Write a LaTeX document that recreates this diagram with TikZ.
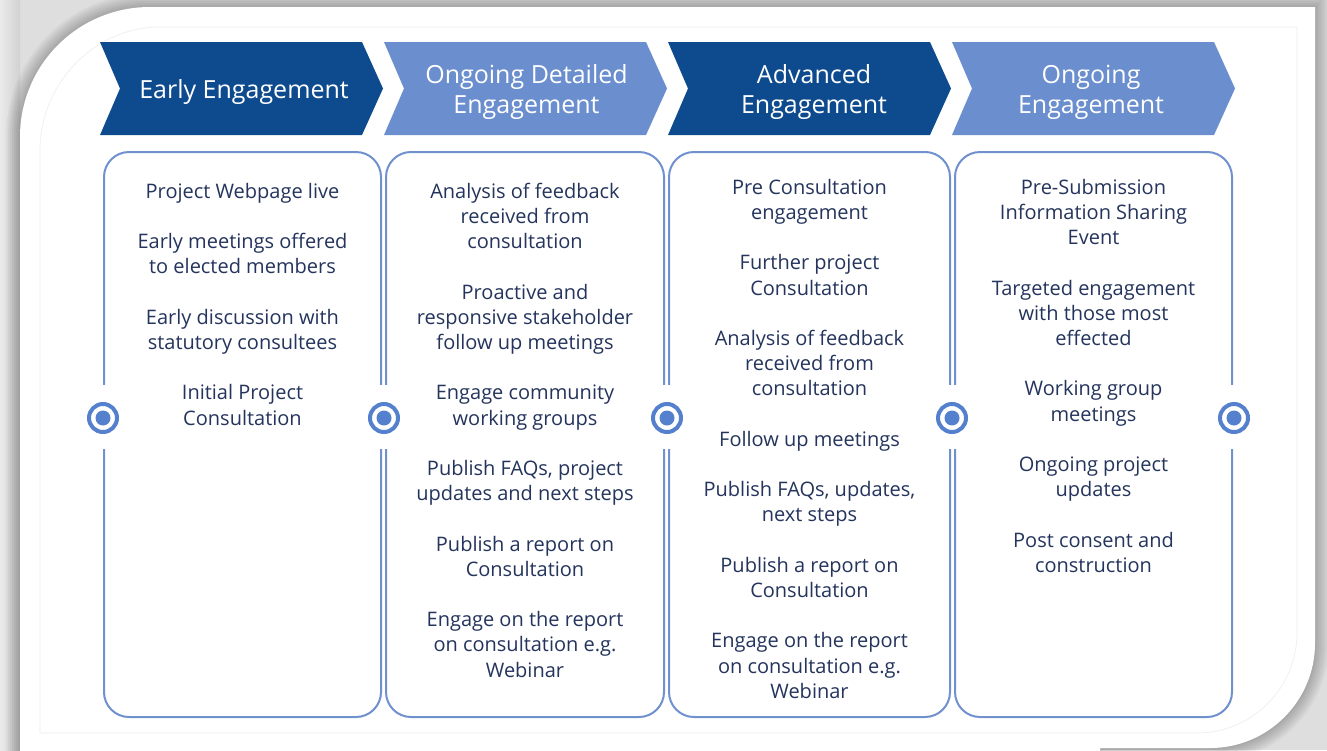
\documentclass[tikz,border=0pt]{standalone}
\usepackage{fontspec}
\setmainfont{Open Sans}
\definecolor{darkblue}{RGB}{14,74,142}
\definecolor{lightblue}{RGB}{106,142,206}
\definecolor{boxblue}{RGB}{112,144,206}
\definecolor{ringblue}{RGB}{84,128,206}
\definecolor{textblue}{RGB}{36,52,92}
\definecolor{bggray}{RGB}{222,222,222}
\tikzset{
  chevdark/.style={fill=darkblue},
  chevlight/.style={fill=lightblue},
  headtext/.style={text=white, font=\fontsize{25}{30}\selectfont, align=center, anchor=north, inner sep=0pt},
  bodytext/.style={text=textblue, font=\fontsize{20}{25.2}\selectfont, align=center, anchor=north, inner sep=0pt},
  colbox/.style={draw=boxblue, line width=2pt, rounded corners=25pt, minimum height=565pt, inner sep=0pt},
  ring/.style={circle, draw=ringblue, line width=4pt, fill=white, minimum size=28pt, inner sep=0pt},
}
\def\cardpath{(20,760) -- (20,137) .. controls (20,65) and (78,7) .. (150,7) -- (1315,7) -- (1315,643) .. controls (1315,701) and (1268,748) .. (1210,748) -- (1100,748) -- (1100,760) -- cycle}
\begin{document}
\begin{tikzpicture}[x=1pt,y=-1pt]
\useasboundingbox (0,0) rectangle (1327,750);
\clip (0,0) rectangle (1327,750);
% background and card
\fill[bggray] (0,0) rectangle (1327,750);
\shade[left color=white!92!black, right color=white!82!black] (0,0) rectangle (20,760);
\foreach \w in {4,8,12,16,20,24,28} {\draw[black, opacity=0.035, line width=\w pt] \cardpath;}
\fill[white] \cardpath;
\draw[black!7, line width=0.6pt] (40,733) -- (40,150) .. controls (40,84) and (94,27) .. (160,27) -- (1297,27) -- (1297,633) .. controls (1297,688) and (1252,733) .. (1197,733) -- cycle;
% chevrons
\foreach \L/\st in {100/chevdark, 384/chevlight, 668/chevdark, 952/chevlight} {
  \fill[\st] (\L,42) -- ({\L+262},42) -- ({\L+283},88.5) -- ({\L+262},135) -- (\L,135) -- ({\L+20},88.5) -- cycle;
}
\node[headtext] (h1) at (244,77) {\strut Early Engagement};
\node[headtext] (h2) at (526.5,62) {\strut Ongoing Detailed\\Engagement};
\node[headtext] (h3) at (814,62) {\strut Advanced\\Engagement};
\node[headtext] (h4) at (1091,62) {\strut Ongoing\\Engagement};
% boxes
\node[colbox, minimum width=277pt] (box1) at (242.5,434.5) {};
\node[colbox, minimum width=278pt] (box2) at (525,434.5) {};
\node[colbox, minimum width=281pt] (box3) at (809.5,434.5) {};
\node[colbox, minimum width=277pt] (box4) at (1093.5,434.5) {};
% gaps in the box edges
\foreach \x in {104,381,386,664,669,950,955,1232} {\fill[white] ({\x-3},385) rectangle ({\x+3},449);}
% rings
\foreach \x/\n in {103/c0, 384/c1, 667/c2, 952/c3, 1234/c4} {
  \node[ring] (\n) at (\x,418) {};
  \fill[ringblue] (\n.center) circle (7.5);
}
% texts
\node[bodytext] (t1) at (242.5,180.4) {\strut Project Webpage live\\[25.2pt]Early meetings offered\\to elected members\\[25.2pt]Early discussion with\\statutory consultees\\[25.2pt]Initial Project\\Consultation};
\node[bodytext] (t2) at (525,180.4) {\strut Analysis of feedback\\received from\\consultation\\[25.2pt]Proactive and\\responsive stakeholder\\follow up meetings\\[25.2pt]Engage community\\working groups\\[25.2pt]Publish FAQs, project\\updates and next steps\\[25.2pt]Publish a report on\\Consultation\\[25.2pt]Engage on the report\\on consultation e.g.\\Webinar};
\node[bodytext] (t3) at (809.5,176.4) {\strut Pre Consultation\\engagement\\[25.2pt]Further project\\Consultation\\[25.2pt]Analysis of feedback\\received from\\consultation\\[25.2pt]Follow up meetings\\[25.2pt]Publish FAQs, updates,\\next steps\\[25.2pt]Publish a report on\\Consultation\\[25.2pt]Engage on the report\\on consultation e.g.\\Webinar};
\node[bodytext] (t4) at (1093.5,176.4) {\strut Pre-Submission\\Information Sharing\\Event\\[25.2pt]Targeted engagement\\with those most\\effected\\[25.2pt]Working group\\meetings\\[25.2pt]Ongoing project\\updates\\[25.2pt]Post consent and\\construction};
\end{tikzpicture}
\end{document}
